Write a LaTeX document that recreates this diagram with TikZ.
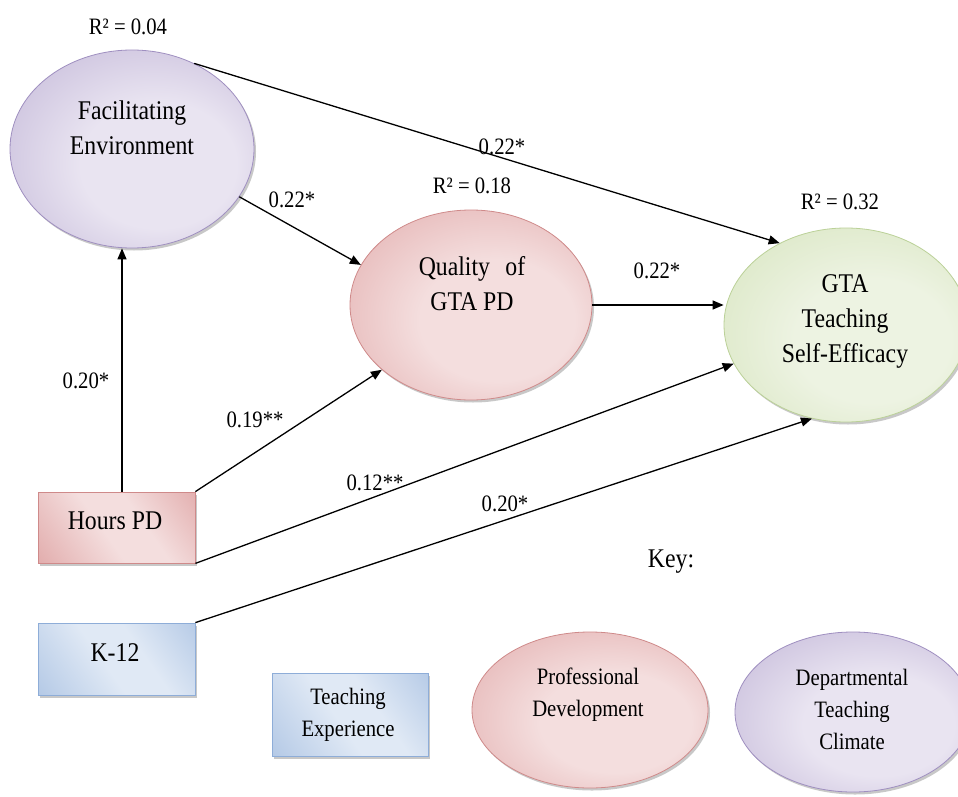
\documentclass[tikz,border=0pt]{standalone}
\usepackage{fontspec}
\setmainfont{Liberation Serif}[FakeStretch=0.88]
\usetikzlibrary{shapes.geometric,arrows.meta,shadows,calc}
\definecolor{purL}{HTML}{E9E4F1}
\definecolor{purD}{HTML}{AE9FCA}
\definecolor{purB}{HTML}{9F8FC0}
\definecolor{redL}{HTML}{F4DEDE}
\definecolor{redD}{HTML}{D99494}
\definecolor{redB}{HTML}{CF8A8A}
\definecolor{grnL}{HTML}{EDF3E2}
\definecolor{grnD}{HTML}{CBDDAC}
\definecolor{grnB}{HTML}{BBD198}
\definecolor{bluL}{HTML}{E0E9F5}
\definecolor{bluD}{HTML}{9EB9DE}
\definecolor{bluB}{HTML}{8EADD8}
\pgfdeclareradialshading{radP}{\pgfpoint{8bp}{-6bp}}{color(0bp)=(purL); color(16bp)=(purL); color(50bp)=(purD)}
\pgfdeclareradialshading{radR}{\pgfpoint{8bp}{-6bp}}{color(0bp)=(redL); color(16bp)=(redL); color(50bp)=(redD)}
\pgfdeclareradialshading{radG}{\pgfpoint{8bp}{-6bp}}{color(0bp)=(grnL); color(16bp)=(grnL); color(50bp)=(grnD)}
\pgfdeclarehorizontalshading{linR}{100bp}{color(0bp)=(redD); color(45bp)=(redL); color(60bp)=(redL); color(100bp)=(redD)}
\pgfdeclarehorizontalshading{linB}{100bp}{color(0bp)=(bluD); color(45bp)=(bluL); color(60bp)=(bluL); color(100bp)=(bluD)}
\begin{document}
\begin{tikzpicture}[x=1pt,y=-1pt,
  shad/.style={drop shadow={shadow xshift=2pt,shadow yshift=-2.5pt,fill=black!70,opacity=0.3}},
  latp/.style={ellipse,inner sep=0pt,draw=purB,line width=0.8pt,shading=radP,shad},
  latr/.style={ellipse,inner sep=0pt,draw=redB,line width=0.8pt,shading=radR,shad},
  latg/.style={ellipse,inner sep=0pt,draw=grnB,line width=0.8pt,shading=radG,shad},
  boxr/.style={rectangle,inner sep=0pt,draw=redB,line width=0.8pt,shading=linR,shading angle=35,shad},
  boxb/.style={rectangle,inner sep=0pt,draw=bluB,line width=0.8pt,shading=linB,shading angle=35,shad},
  txt/.style={align=center,inner sep=0pt,font=\fontsize{27}{35}\selectfont},
  keyt/.style={align=center,inner sep=0pt,font=\fontsize{23.5}{32}\selectfont},
  lbl/.style={inner sep=0pt,font=\fontsize{23.5}{28}\selectfont},
  arr/.style={line width=1.3pt,-{Triangle[length=11pt,width=9pt]}}]
\fill[white] (0,0) rectangle (958,797);
\useasboundingbox (0,0) rectangle (958,797);
% main nodes
\node[latp,minimum width=244pt,minimum height=198pt] (fe) at (132,149) {};
\node[txt] (fet) at (132,128) {Facilitating\\Environment};
\node[latr,minimum width=242pt,minimum height=190pt] (q) at (471,305) {};
\node[txt] (qt) at (472,284) {Quality\hspace{0.35em} of\\GTA PD};
\node[latg,minimum width=244pt,minimum height=194pt] (g) at (846,325) {};
\node[txt] (gt) at (845,321) {GTA\\Teaching\\Self-Efficacy};
\node[boxr,minimum width=157pt,minimum height=71pt] (hours) at (116.5,527.5) {};
\node[txt] (hourst) at (115,521) {Hours PD};
\node[boxb,minimum width=157pt,minimum height=72pt] (k12) at (116.5,659) {};
\node[txt] (k12t) at (115,653) {K-12};
% key
\node[txt] (key) at (671,562) {Key:};
\node[boxb,minimum width=156pt,minimum height=83pt] (te) at (350,714.5) {};
\node[keyt] (tet) at (348,715) {Teaching\\Experience};
\node[latr,minimum width=236pt,minimum height=156pt] (pd) at (590,710) {};
\node[keyt] (pdt) at (588,695) {Professional\\Development};
\node[latp,minimum width=236pt,minimum height=160pt] (dtc) at (853,712) {};
\node[keyt] (dtct) at (852,709) {Departmental\\Teaching\\Climate};
% connectors
\draw[arr] ([xshift=5.5pt]hours.north) -- ([xshift=-10pt]fe.south);
\draw[arr] (fe.54) -- (g.129);
\draw[arr] (fe.-24) -- (q.160);
\draw[arr] (q.east) -- (q.east -| g.west);
\draw[arr] (hours.north east) -- (q.216);
\draw[arr] (hours.south east) -- (g.199);
\draw[arr] (k12.north east) -- (g.250);
% labels
\node[lbl] (r1) at (128,27) {R² = 0.04};
\node[lbl] (r2) at (472,186) {R² = 0.18};
\node[lbl] (r3) at (840,202) {R² = 0.32};
\node[lbl] (c1) at (502,147) {0.22*};
\node[lbl] (c2) at (292,200) {0.22*};
\node[lbl] (c3) at (657,271) {0.22*};
\node[lbl] (c4) at (86,381) {0.20*};
\node[lbl] (c5) at (255,420) {0.19**};
\node[lbl] (c6) at (375,483) {0.12**};
\node[lbl] (c7) at (505,504) {0.20*};
\end{tikzpicture}
\end{document}
